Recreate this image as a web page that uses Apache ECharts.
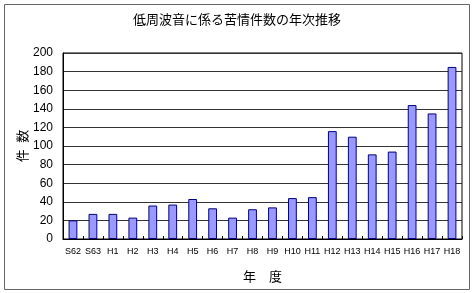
<!DOCTYPE html>
<html>
<head>
<meta charset="utf-8">
<script src="https://cdn.jsdelivr.net/npm/echarts@6/dist/echarts.min.js"></script>
<style>html,body{margin:0;padding:0;background:#fff}#c{width:474px;height:293px}</style>
</head>
<body>
<div id="c"></div>
<script>
var categories = ['S62','S63','H1','H2','H3','H4','H5','H6','H7','H8','H9','H10','H11','H12','H13','H14','H15','H16','H17','H18'];
var counts = [20,27,27,23,36,37,43,33,23,32,34,44,45,116,110,91,94,144,135,185];
var titleText = '低周波音に係る苦情件数の年次推移';
var xName = '年　度';
var yName = '件\u2002数';

var chart = echarts.init(document.getElementById('c'), null, {renderer:'canvas'});
chart.setOption({
  animation: false,
  backgroundColor: '#fff',
  textStyle: {fontFamily: '"Liberation Sans","Noto Sans CJK JP",sans-serif'},
  title: {
    text: titleText, left: 'center', top: 8,
    textStyle: {fontSize: 13, fontWeight: 'normal', color: '#000', fontFamily: '"Noto Sans CJK JP",sans-serif'}
  },
  graphic: [{
    type: 'rect', shape: {x: 4.5, y: 4.5, width: 465, height: 285},
    style: {fill: null, stroke: '#666', lineWidth: 1}, z: -1
  }],
  grid: {left: 63, right: 12, top: 53, bottom: 54, show: true, borderColor: '#000', borderWidth: 1, backgroundColor: '#fff'},
  xAxis: {
    type: 'category', data: categories,
    name: xName, nameLocation: 'middle', nameGap: 31,
    nameTextStyle: {fontSize: 13, color: '#000', fontFamily: '"Noto Sans CJK JP",sans-serif'},
    axisLine: {lineStyle: {color: '#000', width: 1}},
    axisTick: {show: true, inside: true, length: 3, lineStyle: {color: '#000'}},
    axisLabel: {interval: 0, fontSize: 9, color: '#000', margin: 8}
  },
  yAxis: {
    type: 'value', min: 0, max: 200, interval: 20,
    name: yName, nameLocation: 'middle', nameGap: 34, nameRotate: 90, nameMoveOverlap: false,
    nameTextStyle: {fontSize: 13, color: '#000', fontFamily: '"Noto Sans CJK JP",sans-serif'},
    axisLine: {show: true, lineStyle: {color: '#000'}},
    axisTick: {show: false},
    axisLabel: {fontSize: 12, color: '#000', margin: 10},
    splitLine: {lineStyle: {color: '#333', width: 1}}
  },
  series: [{
    type: 'bar', data: counts, barWidth: '44%',
    itemStyle: {color: '#9999FF', borderColor: '#000080', borderWidth: 1}
  }]
});
</script>
</body>
</html>
